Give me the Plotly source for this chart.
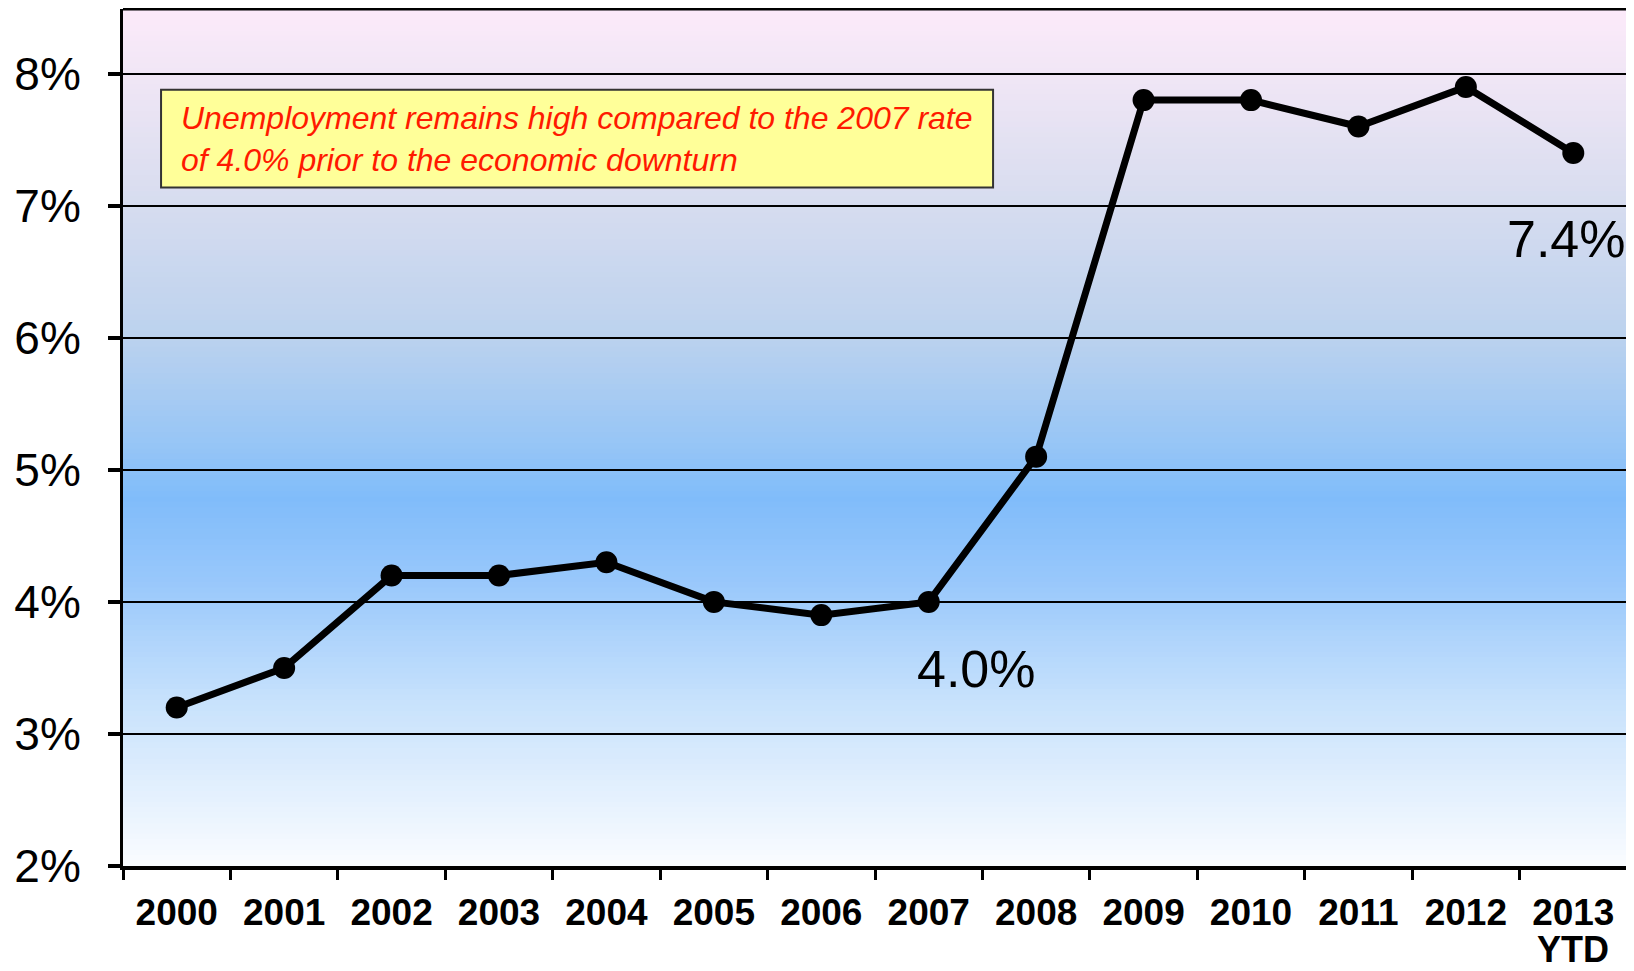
import plotly.graph_objects as go

years = ["2000", "2001", "2002", "2003", "2004", "2005", "2006", "2007",
         "2008", "2009", "2010", "2011", "2012", "2013"]
tick_text = ["2000", "2001", "2002", "2003", "2004", "2005", "2006", "2007",
             "2008", "2009", "2010", "2011", "2012", "2013"]
ytd_label = "YTD"
rate = [3.2, 3.5, 4.2, 4.2, 4.3, 4.0, 3.9, 4.0, 5.1, 7.8, 7.8, 7.6, 7.9, 7.4]
y_ticks = [2, 3, 4, 5, 6, 7, 8]
note = ("Unemployment remains high compared to the 2007 rate<br>"
        "of 4.0% prior to the economic downturn")
labelled = ["2007", "2013"]

FONT = "Arial, Liberation Sans, sans-serif"

# background gradient stops (position from bottom 0 -> top 1, colour)
stops = [
    (0.00, (250, 252, 255)),
    (0.19, (200, 226, 252)),
    (0.33, (153, 200, 251)),
    (0.43, (128, 188, 250)),
    (0.49, (150, 197, 246)),
    (0.62, (188, 210, 238)),
    (0.77, (214, 220, 239)),
    (0.92, (240, 230, 245)),
    (1.00, (253, 234, 250)),
]


def colour_at(t):
    for (p0, c0), (p1, c1) in zip(stops[:-1], stops[1:]):
        if p0 <= t <= p1:
            f = (t - p0) / (p1 - p0) if p1 > p0 else 0
            c = [round(a + (b - a) * f) for a, b in zip(c0, c1)]
            return "rgb(%d,%d,%d)" % tuple(c)
    return "rgb(%d,%d,%d)" % stops[-1][1]


shapes = []
N = 160
for i in range(N):
    t0 = i / N
    t1 = (i + 1) / N
    shapes.append(dict(type="rect", xref="paper", yref="paper",
                       x0=0, x1=1, y0=t0, y1=min(1, t1 + 0.002),
                       fillcolor=colour_at((t0 + t1) / 2),
                       line=dict(width=0), layer="below"))

# annotation box
shapes.append(dict(type="rect", xref="paper", yref="paper",
                   x0=0.0253, x1=0.5785, y0=0.7916, y1=0.9057,
                   fillcolor="#ffff99", line=dict(color="#333333", width=2),
                   layer="above"))
# top border
shapes.append(dict(type="line", xref="paper", yref="paper",
                   x0=0, x1=1, y0=1, y1=1,
                   line=dict(color="black", width=3), layer="above"))

fig = go.Figure()
fig.add_trace(go.Scatter(
    x=years, y=rate, mode="lines+markers",
    line=dict(color="black", width=7),
    marker=dict(color="black", size=22),
    showlegend=False, hoverinfo="x+y",
))

offsets = {"2007": (48, -67), "2013": (-7, -86)}
annotations = [
    dict(xref="paper", yref="paper", x=0.037, y=0.8487,
         xanchor="left", yanchor="middle", align="left",
         text="<i>" + note + "</i>", showarrow=False,
         font=dict(family=FONT, size=32, color="#ff1a00")),
    dict(x=len(years) - 1, xref="x", yref="paper", y=-0.0975,
         yanchor="middle", text="<b>" + ytd_label + "</b>", showarrow=False,
         borderpad=0,
         font=dict(family=FONT, size=36, color="black")),
]
for yr in labelled:
    i = years.index(yr)
    dx, dy = offsets[yr]
    annotations.append(dict(
        x=i, y=rate[i], xref="x", yref="y",
        text=f"{rate[i]:.1f}%", showarrow=False,
        xshift=dx, yshift=dy,
        font=dict(family=FONT, size=52, color="black")))

fig.update_layout(
    width=1626, height=963,
    margin=dict(l=115, r=7, t=1, b=105, autoexpand=False),
    paper_bgcolor="white", plot_bgcolor="white",
    shapes=shapes, annotations=annotations,
    font=dict(family=FONT, color="black"),
    xaxis=dict(
        type="category", categoryorder="array", categoryarray=years,
        tickmode="array", tickvals=years, ticktext=tick_text,
        tickson="boundaries", ticks="outside", ticklen=10, tickwidth=3,
        tickcolor="black", showline=True, linecolor="black", linewidth=4,
        showgrid=False, zeroline=False, automargin=False,
        tickfont=dict(family=FONT, size=37, color="black", weight="bold"),
        ticklabelstandoff=11,
        range=[-0.5, 13.5], fixedrange=True,
    ),
    yaxis=dict(
        range=[2, 8.49], tickmode="array", tickvals=y_ticks,
        ticktext=[f"{v}%" for v in y_ticks],
        ticks="outside", ticklen=12, tickwidth=4, tickcolor="black",
        showline=True, linecolor="black", linewidth=3, mirror=True,
        showgrid=True, gridcolor="black", gridwidth=2, zeroline=False,
        automargin=False,
        tickfont=dict(family=FONT, size=46, color="black"),
        ticklabelstandoff=18, fixedrange=True,
    ),
)

fig.write_html("out.html")
